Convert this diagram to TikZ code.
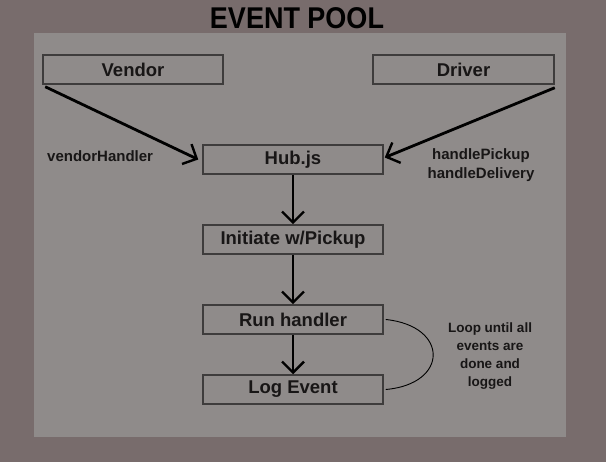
\documentclass[tikz,border=0pt]{standalone}
\usepackage{fontspec}
\setmainfont{Liberation Sans}
\newfontfamily\titlefont[FakeStretch=0.9]{Liberation Sans}
\usetikzlibrary{arrows.meta}
\definecolor{outerbg}{RGB}{120,108,108}
\definecolor{panelbg}{RGB}{143,139,138}
\definecolor{boxline}{RGB}{62,60,60}
\definecolor{txt}{RGB}{24,22,22}
\tikzset{
  stepbox/.style={draw=boxline, line width=1.5pt, fill=panelbg, minimum width=180pt, minimum height=29pt, inner sep=0pt, font=\fontsize{18.5}{20}\selectfont\bfseries, text=txt},
  flow/.style={line width=2.8pt, black, -{Straight Barb[length=11pt,width=22pt,line width=2.4pt]}},
  lbl/.style={font=\fontsize{15}{19}\selectfont\bfseries, text=txt, align=center, inner sep=0pt},
}
\begin{document}
\begin{tikzpicture}[x=1pt,y=-1pt]
\fill[outerbg] (0,0) rectangle (606,462);
\useasboundingbox (0,0) rectangle (606,462);
\fill[panelbg] (34,33) rectangle (566,437);
\node[font=\titlefont\fontsize{30}{32}\selectfont\bfseries, text=black, inner sep=0pt] (title) at (297,18) {EVENT POOL};
\node[stepbox] (vendor) at (133,69.5) {Vendor};
\node[stepbox, minimum width=181pt] (driver) at (463.5,69.5) {Driver};
\node[stepbox] (hub) at (293,159.5) {Hub.js};
\node[stepbox] (init) at (293,239.5) {Initiate w/Pickup};
\node[stepbox] (run) at (293,319.5) {Run handler};
\node[stepbox] (log) at (293,389.5) {Log Event};
\node[lbl, anchor=west] (vh) at (47,156) {vendorHandler};
\node[lbl] (dh) at (481,165.5) {handlePickup\\handleDelivery};
\node[lbl, font=\fontsize{13.5}{18}\selectfont\bfseries] (loop) at (490,356) {Loop until all\\events are\\done and\\logged};
\draw[flow] ([shift={(3,2)}]vendor.south west) -- ([shift={(-4,0)}]hub.west);
\draw[flow] ([shift={(0,3)}]driver.south east) -- ([shift={(1,-2)}]hub.east);
\draw[flow] (hub.south) -- (init.north);
\draw[flow] (init.south) -- (run.north);
\draw[flow] (run.south) -- (log.north);
\draw[black, line width=0.9pt] ([xshift=2pt]run.east) .. controls (449,326) and (449,384) .. ([xshift=2pt]log.east);
\end{tikzpicture}
\end{document}
